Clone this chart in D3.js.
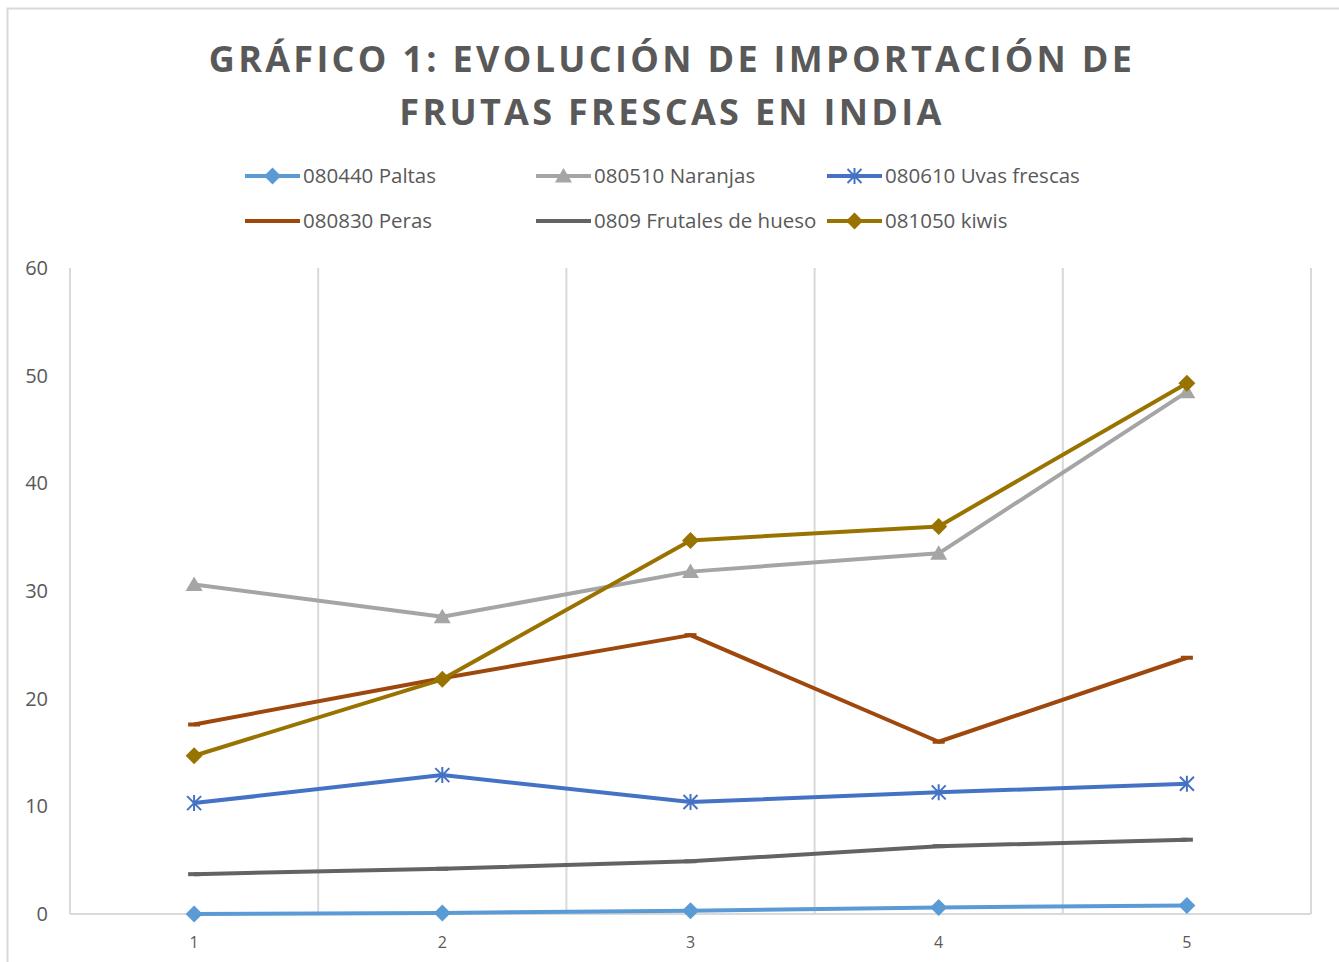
<!DOCTYPE html>
<html>
<head>
<meta charset="utf-8">
<script src="https://cdn.jsdelivr.net/npm/d3@7"></script>
<style>
  body { margin: 0; background: #fff; }
  svg text { font-family: "Open Sans", sans-serif; fill: #595959; }
</style>
</head>
<body>
<div id="chart"></div>
<script>
// Chart values.
const categories = ["1", "2", "3", "4", "5"];
const seriesNames = ["080440 Paltas", "080510 Naranjas", "080610 Uvas frescas",
                     "080830 Peras", "0809 Frutales de hueso", "081050 kiwis"];
const paltas = [0.0, 0.1, 0.3, 0.6, 0.8];
const naranjas = [30.6, 27.6, 31.8, 33.5, 48.5];
const uvas = [10.3, 12.9, 10.4, 11.3, 12.1];
const peras = [17.6, 21.9, 25.9, 16.0, 23.8];
const frutales = [3.7, 4.2, 4.9, 6.3, 6.9];
const kiwis = [14.7, 21.8, 34.7, 36.0, 49.3];
const yTicks = [0, 10, 20, 30, 40, 50, 60];

const seriesColors = ["#5b9bd5", "#a5a5a5", "#4472c4", "#9e480e", "#636363", "#997300"];
const seriesMarkers = ["diamond", "triangle", "star", "dash", "dash", "diamond"];
const seriesValues = [paltas, naranjas, uvas, peras, frutales, kiwis];

let series = seriesNames.map((name, i) => ({
    name: name, color: seriesColors[i], marker: seriesMarkers[i], values: seriesValues[i]
}));

const width = 1339, height = 962;
const svg = d3.select("#chart").append("svg")
    .attr("width", width)
    .attr("height", height);

// Outer chart frame (runs off the right and bottom edges in the reference).
svg.append("rect")
    .attr("x", 7.5).attr("y", 8.5)
    .attr("width", 1340).attr("height", 970)
    .attr("fill", "none")
    .attr("stroke", "#d9d9d9")
    .attr("stroke-width", 2);

// Title
let title = svg.append("text")
    .attr("text-anchor", "middle")
    .style("font-size", "36px")
    .style("font-weight", "bold")
    .style("letter-spacing", "3.3px");
title.append("tspan").attr("x", 672).attr("y", 72).text("GRÁFICO 1: EVOLUCIÓN DE IMPORTACIÓN DE");
title.append("tspan").attr("x", 672).attr("y", 125).text("FRUTAS FRESCAS EN INDIA");

let x = d3.scaleBand().domain(categories).range([70, 1311]);
let y = d3.scaleLinear().domain([0, 60]).range([914, 268]);
let cx = c => x(c) + x.bandwidth() / 2;

// Vertical gridlines at category boundaries
let bounds = categories.map(c => x(c)).concat([x.range()[1]]);
svg.append("g").selectAll("line")
    .data(bounds)
    .enter().append("line")
    .attr("x1", d => d).attr("x2", d => d)
    .attr("y1", y(60)).attr("y2", y(0))
    .attr("stroke", "#d9d9d9")
    .attr("stroke-width", 2);

// X axis line
svg.append("line")
    .attr("x1", 70).attr("x2", 1311)
    .attr("y1", y(0)).attr("y2", y(0))
    .attr("stroke", "#d9d9d9")
    .attr("stroke-width", 2);

// Y tick labels
svg.append("g").selectAll("text")
    .data(yTicks)
    .enter().append("text")
    .attr("x", 48)
    .attr("y", d => y(d))
    .attr("dy", "0.35em")
    .attr("text-anchor", "end")
    .style("font-size", "20px")
    .text(d => d);

// X tick labels
svg.append("g").selectAll("text")
    .data(categories)
    .enter().append("text")
    .attr("x", d => cx(d))
    .attr("y", 948)
    .attr("text-anchor", "middle")
    .style("font-size", "16px")
    .text(d => d);

function drawMarker(g, type, color) {
    if (type === "diamond") {
        g.append("path").attr("d", "M0,-8.5L8.5,0L0,8.5L-8.5,0Z").attr("fill", color);
    } else if (type === "triangle") {
        g.append("path").attr("d", "M0,-8L8.5,6.5L-8.5,6.5Z").attr("fill", color);
    } else if (type === "star") {
        g.append("path").attr("d", "M-7,-7L7,7M-7,7L7,-7M0,-8L0,8")
            .attr("stroke", color).attr("stroke-width", 2).attr("fill", "none");
    } else if (type === "dash") {
        g.append("rect").attr("x", -6).attr("y", -2).attr("width", 12).attr("height", 4).attr("fill", color);
    }
}

let line = d3.line()
    .x((d, i) => cx(categories[i]))
    .y(d => y(d));

let lineGroup = svg.append("g");
series.forEach(s => {
    lineGroup.append("path")
        .datum(s.values)
        .attr("d", line)
        .attr("fill", "none")
        .attr("stroke", s.color)
        .attr("stroke-width", 4)
        .attr("stroke-linejoin", "round");
    s.values.forEach((v, i) => {
        let g = lineGroup.append("g")
            .attr("transform", "translate(" + cx(categories[i]) + "," + y(v) + ")");
        drawMarker(g, s.marker, s.color);
    });
});

// Legend
const legendX = [245, 536, 827];
const legendY = [176, 221];
let legend = svg.append("g");
series.forEach((s, i) => {
    let lx = legendX[i % 3], ly = legendY[Math.floor(i / 3)];
    let g = legend.append("g").attr("transform", "translate(" + lx + "," + ly + ")");
    g.append("line")
        .attr("x1", 0).attr("x2", 55)
        .attr("y1", 0).attr("y2", 0)
        .attr("stroke", s.color)
        .attr("stroke-width", 4);
    let m = g.append("g").attr("transform", "translate(27.5,0)");
    drawMarker(m, s.marker, s.color);
    g.append("text")
        .attr("x", 58)
        .attr("y", 0)
        .attr("dy", "0.35em")
        .style("font-size", "20.5px")
        .text(s.name);
});
</script>
</body>
</html>
